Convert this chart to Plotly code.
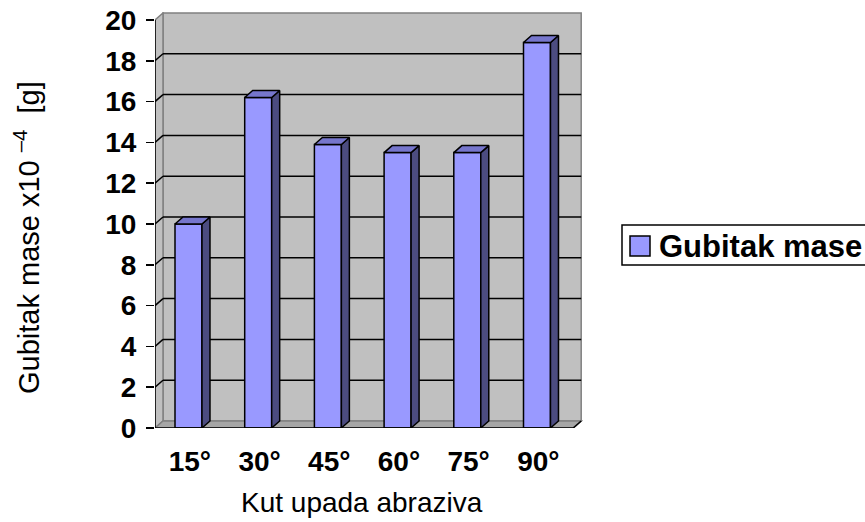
import plotly.graph_objects as go

# ---- data ----
categories = ["15°", "30°", "45°", "60°", "75°", "90°"]
mass_loss = [10.0, 16.2, 13.9, 13.5, 13.5, 18.9]
y_tick_values = [0, 2, 4, 6, 8, 10, 12, 14, 16, 18, 20]
series_name = "Gubitak mase"
x_title = "Kut upada abraziva"
y_title = "Gubitak mase x10 <sup>–4</sup>\u00a0 [g]"

# ---- layout geometry ----
W, H = 865, 522
L, R, T, B = 155, 282, 12, 94
PW, PH = W - L - R, H - T - B
PX_X = 69.7          # pixels per category
PX_Y = 20.4          # pixels per unit
X_RANGE = [-0.5, -0.5 + PW / PX_X]
Y_RANGE = [0, PH / PX_Y]
DX = 8 / PX_X        # depth offset (x)
DY = 7 / PX_Y        # depth offset (y)
Y_MAX = 20
N = len(categories)
BAR_L, BAR_R = 0.287, 0.674   # bar front face within category slot

FONT = "Arial, Liberation Sans, sans-serif"
FRONT, TOP, SIDE = "#9999FF", "#7676CC", "#4C4C80"
WALL, FLOOR, EDGE = "#C0C0C0", "#A6A6A6", "#808080"


def px2paper_x(p):
    return (p - L) / PW


def px2paper_y(p):
    return (H - B - p) / PH


fig = go.Figure()

# front faces of bars
fig.add_trace(go.Bar(
    x=list(range(N)), y=mass_loss, width=BAR_R - BAR_L, offset=BAR_L - 0.5,
    marker=dict(color=FRONT, line=dict(color="black", width=1.5)),
    name=series_name, showlegend=False, hoverinfo="skip"))

# side and top faces of bars
sx, sy, tx, ty = [], [], [], []
for i, v in enumerate(mass_loss):
    x0, x1 = i - 0.5 + BAR_L, i - 0.5 + BAR_R
    sx += [x1, x1 + DX, x1 + DX, x1, x1, None]
    sy += [0, DY, v + DY, v, 0, None]
    tx += [x0, x1, x1 + DX, x0 + DX, x0, None]
    ty += [v, v, v + DY, v + DY, v, None]
fig.add_trace(go.Scatter(x=sx, y=sy, mode="lines", fill="toself", fillcolor=SIDE,
                         line=dict(color="black", width=1.5), showlegend=False,
                         hoverinfo="skip"))
fig.add_trace(go.Scatter(x=tx, y=ty, mode="lines", fill="toself", fillcolor=TOP,
                         line=dict(color="black", width=1.5), showlegend=False,
                         hoverinfo="skip"))

shapes = []
xl, xr = -0.5, N - 0.5
# walls and floor (below traces)
shapes.append(dict(type="rect", xref="x", yref="y", x0=xl + DX, x1=xr + DX, y0=DY, y1=Y_MAX + DY,
                   fillcolor=WALL, line=dict(color=EDGE, width=1.5), layer="below"))
shapes.append(dict(type="path", xref="x", yref="y",
                   path=f"M{xl},0 L{xl},{Y_MAX} L{xl+DX},{Y_MAX+DY} L{xl+DX},{DY} Z",
                   fillcolor=WALL, line=dict(color=EDGE, width=1.5), layer="below"))
shapes.append(dict(type="path", xref="x", yref="y",
                   path=f"M{xl},0 L{xr},0 L{xr+DX},{DY} L{xl+DX},{DY} Z",
                   fillcolor=FLOOR, line=dict(color=EDGE, width=1.5), layer="below"))
# gridlines on back wall + diagonals on left wall
for v in y_tick_values:
    if v == 0 or v == Y_MAX:
        continue
    shapes.append(dict(type="line", xref="x", yref="y", x0=xl + DX, x1=xr + DX, y0=v + DY, y1=v + DY,
                       line=dict(color="black", width=1.5), layer="below"))
    shapes.append(dict(type="line", xref="x", yref="y", x0=xl, x1=xl + DX, y0=v, y1=v + DY,
                       line=dict(color="black", width=1.5), layer="below"))
# axes lines
shapes.append(dict(type="line", xref="x", yref="y", x0=xl, x1=xl, y0=0, y1=Y_MAX,
                   line=dict(color="black", width=1.5)))
shapes.append(dict(type="line", xref="x", yref="y", x0=xl, x1=xr, y0=0, y1=0,
                   line=dict(color="black", width=1.5)))
shapes.append(dict(type="line", xref="x", yref="y", x0=xr, x1=xr + DX, y0=0, y1=DY,
                   line=dict(color="black", width=1.5)))
# category boundary ticks
for k in range(N + 1):
    b = k - 0.5
    shapes.append(dict(type="line", xref="x", yref="y", x0=b, x1=b, ysizemode="pixel",
                       yanchor=0, y0=0, y1=-7, line=dict(color="black", width=1.5)))

# legend (box, swatch, label)
shapes.append(dict(type="rect", xref="paper", yref="paper",
                   x0=px2paper_x(622), x1=px2paper_x(880), y0=px2paper_y(265), y1=px2paper_y(225),
                   fillcolor="white", line=dict(color="black", width=1.5)))
shapes.append(dict(type="rect", xref="paper", yref="paper",
                   x0=px2paper_x(630), x1=px2paper_x(650), y0=px2paper_y(256), y1=px2paper_y(236),
                   fillcolor=FRONT, line=dict(color="black", width=1.5)))

annotations = [
    dict(text=series_name, xref="paper", yref="paper", x=px2paper_x(657), y=px2paper_y(246),
         xanchor="left", yanchor="middle", showarrow=False,
         font=dict(family=FONT, size=31, color="black", weight="bold")),
    dict(text=x_title, xref="paper", yref="paper", x=px2paper_x(362), y=px2paper_y(503),
         xanchor="center", yanchor="middle", showarrow=False,
         font=dict(family=FONT, size=28, color="black")),
    dict(text=y_title, xref="paper", yref="paper", x=px2paper_x(27), y=px2paper_y(238),
         xanchor="center", yanchor="middle", showarrow=False, textangle=-90,
         font=dict(family=FONT, size=29, color="black")),
]

fig.update_layout(
    width=W, height=H,
    margin=dict(l=L, r=R, t=T, b=B, autoexpand=False),
    paper_bgcolor="white", plot_bgcolor="white",
    showlegend=False,
    shapes=shapes, annotations=annotations,
    xaxis=dict(range=X_RANGE, tickvals=list(range(N)), ticktext=categories, ticks="",
               showgrid=False, zeroline=False, showline=False, ticklabelstandoff=14,
               tickfont=dict(family=FONT, size=28, color="black", weight="bold")),
    yaxis=dict(range=Y_RANGE, tickvals=y_tick_values, ticks="outside", ticklen=8, tickwidth=1.5,
               tickcolor="black", showgrid=False, zeroline=False, showline=False,
               ticklabelstandoff=4,
               tickfont=dict(family=FONT, size=28, color="black", weight="bold")),
)

fig.write_html(
    "out.html",
    config={"displayModeBar": False, "staticPlot": True},
    post_script="document.body.style.margin='0';document.body.style.padding='0';"
                "document.body.style.overflow='hidden';",
)
